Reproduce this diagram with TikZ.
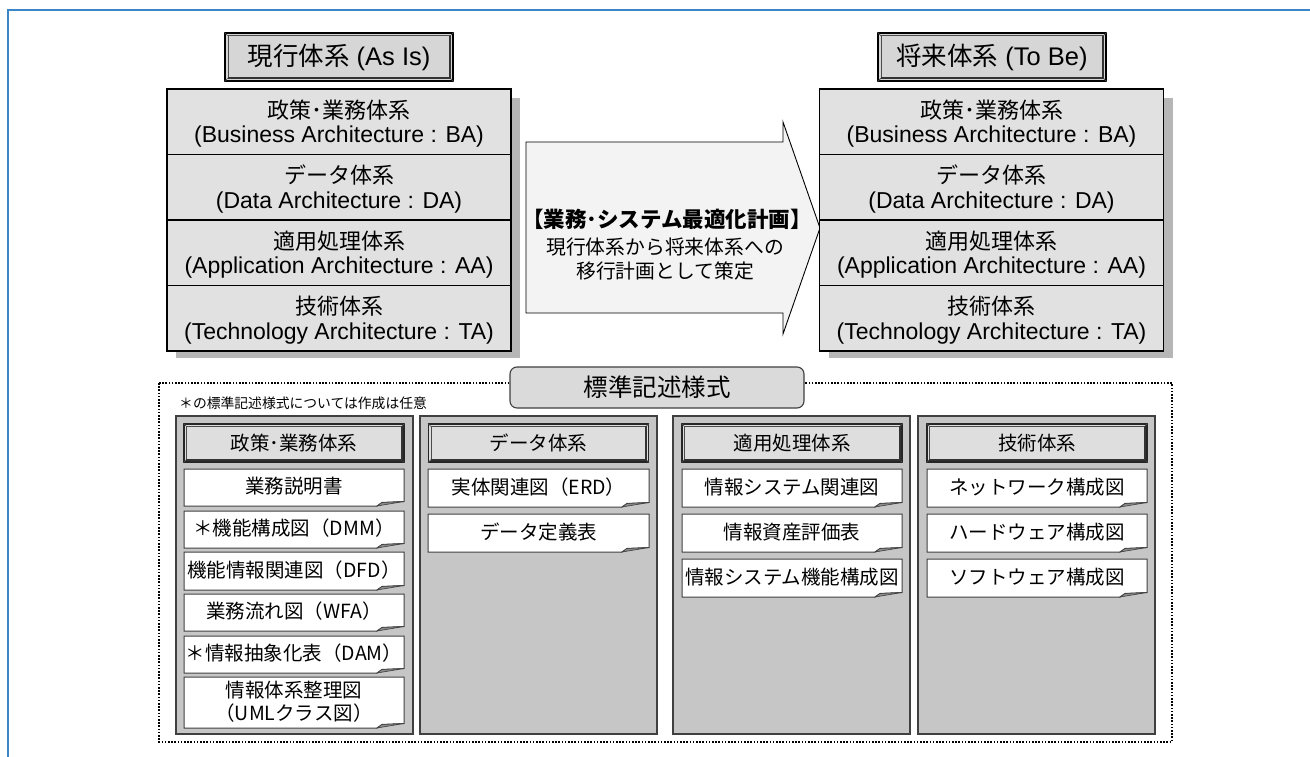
\documentclass[tikz,border=0pt]{standalone}
\usepackage{fontspec}
\setmainfont{Liberation Sans}
\newfontfamily\jp{Noto Sans CJK JP}
\definecolor{frameblue}{RGB}{58,134,198}
\definecolor{rowgray}{RGB}{225,225,225}
\definecolor{shadowgray}{RGB}{182,182,182}
\definecolor{titlegray}{RGB}{214,214,214}
\definecolor{panelgray}{RGB}{198,198,198}
\definecolor{edgegray}{RGB}{64,64,64}
\definecolor{arrowfill}{RGB}{243,243,243}
\definecolor{headgray}{RGB}{222,222,222}
\definecolor{stdgray}{RGB}{218,218,218}
\newcommand\bevelize[2]{%
  \draw[bevel] ([xshift=#2,yshift=-#2]#1.north west) rectangle ([xshift=-#2,yshift=#2]#1.south east);
  \draw[bevel] (#1.north west) -- ([xshift=#2,yshift=-#2]#1.north west);
  \draw[bevel] (#1.north east) -- ([xshift=-#2,yshift=-#2]#1.north east);
  \draw[bevel] (#1.south west) -- ([xshift=#2,yshift=#2]#1.south west);
  \draw[bevel] (#1.south east) -- ([xshift=-#2,yshift=#2]#1.south east);
  \draw[bevelshade] ([xshift=-#2,yshift=-#2]#1.north east) -- ([xshift=-#2,yshift=#2]#1.south east) -- ([xshift=#2,yshift=#2]#1.south west);
}
\newcommand\docitem[6]{%
  \draw[docedge] (#2,#3) -- (#4,#3) -- (#4,#5-4.5) -- (#4-22,#5-3.5) -- (#4-27,#5) -- (#2,#5) -- cycle;
  \draw[docfold] (#4-27,#5) -- (#4-22,#5-3.5) -- (#4,#5-4.5) -- cycle;
  \node[itemtext] (#1) at ({(#2+#4)/2},{(#3+#5)/2-1}) {#6};
}
\begin{document}
\begin{tikzpicture}[x=1pt,y=-1pt,
  stackrow/.style={draw=black, line width=1.1pt, fill=rowgray, minimum width=344pt, minimum height=65.5pt, inner sep=0pt, outer sep=0pt},
  jprow/.style={font=\jp\fontsize{22}{26}\selectfont, inner sep=0pt},
  enrow/.style={font=\fontsize{23}{27}\selectfont, inner sep=0pt},
  titlebox/.style={draw=black, line width=1.3pt, fill=titlegray, minimum width=228pt, minimum height=48pt, inner sep=0pt, font=\fontsize{25.5}{29}\selectfont},
  bevel/.style={draw=black!70, line width=0.7pt},
  bevelshade/.style={draw=black!80, line width=1.8pt},
  arrowshape/.style={draw=black, line width=0.9pt, fill=arrowfill},
  arrowbold/.style={font=\jp\bfseries\fontsize{21.5}{25}\selectfont, inner sep=0pt},
  arrowtext/.style={font=\jp\fontsize{19.8}{23}\selectfont, inner sep=0pt},
  panel/.style={draw=edgegray, line width=1.2pt, fill=panelgray, minimum width=237pt, minimum height=318pt, inner sep=0pt},
  colhead/.style={draw=black!85, line width=1.2pt, fill=headgray, minimum width=220pt, minimum height=38pt, inner sep=0pt, font=\jp\fontsize{19.5}{23}\selectfont},
  docedge/.style={draw=edgegray, line width=1pt, fill=white},
  docfold/.style={draw=edgegray, line width=0.6pt, fill=black!45},
  itemtext/.style={font=\jp\fontsize{19.5}{23.5}\selectfont, inner sep=0pt, align=center},
  stdbox/.style={draw=edgegray, line width=1.1pt, fill=stdgray, rounded corners=7pt, minimum width=294pt, minimum height=41pt, inner sep=0pt, font=\jp\fontsize{24.5}{28}\selectfont},
  notetext/.style={font=\jp\fontsize{13.8}{16}\selectfont, inner sep=0pt, anchor=west},
  dotframe/.style={draw=black, line width=1.6pt, dash pattern=on 1.6pt off 1.6pt},
]
\useasboundingbox (0,0) rectangle (1310,757);
\fill[white] (0,0) rectangle (1310,757);
% blue page frame
\draw[frameblue, line width=2pt] (1310,10) -- (8,10) -- (8,757);

% title boxes
\node[titlebox] (asis) at (339,57) {{\jp 現行体系} (As Is)};
\bevelize{asis}{3.5pt}
\node[titlebox] (tobe) at (992,57) {{\jp 将来体系} (To Be)};
\bevelize{tobe}{3.5pt}

% transition arrow
\draw[arrowshape] (526,142) -- (783,142) -- (783,122) -- (820,228) -- (783,334) -- (783,313) -- (526,313) -- cycle;
\node[arrowbold] (plan) at (667,219) {【業務･システム最適化計画】};
\node[arrowtext] (plan2) at (665,247) {現行体系から将来体系への};
\node[arrowtext] (plan3) at (665,271) {移行計画として策定};

% architecture stacks
\foreach \side/\cx in {L/339, R/991.5} {
  \fill[shadowgray] (\cx-163,98) rectangle (\cx+181,358);
  \foreach \ja/\en [count=\i from 0] in {政策･業務体系/(Business Architecture : BA), データ体系/(Data Architecture : DA), 適用処理体系/(Application Architecture : AA), 技術体系/(Technology Architecture : TA)} {
    \node[stackrow] (\side-row-\i) at (\cx,89+65.5*\i+32.75) {};
    \node[jprow] (\side-ja-\i) at (\cx,89+65.5*\i+21) {\ja};
    \node[enrow] (\side-en-\i) at (\cx,89+65.5*\i+48) {\en};
  }
}

% standard description frame
\draw[dotframe] (159,383) rectangle (1172,742);
\node[stdbox] (std) at (657,387.5) {標準記述様式};
\node[notetext] (note) at (179,403) {＊の標準記述様式については作成は任意};

% panels
\node[panel] (p1) at (294.5,575) {};
\node[panel] (p2) at (538.5,575) {};
\node[panel] (p3) at (791.5,575) {};
\node[panel] (p4) at (1036.5,575) {};

% column headers
\node[colhead] (h1) at (294,443) {政策･業務体系};
\bevelize{h1}{3pt}
\node[colhead] (h2) at (538.5,443) {データ体系};
\bevelize{h2}{3pt}
\node[colhead] (h3) at (792,443) {適用処理体系};
\bevelize{h3}{3pt}
\node[colhead] (h4) at (1037,443) {技術体系};
\bevelize{h4}{3pt}

% column 1 items
\docitem{b1}{184}{469}{404}{506}{業務説明書}
\docitem{b2}{184}{511}{404}{548}{＊機能構成図（DMM）}
\docitem{b3}{184}{552}{404}{590}{機能情報関連図（DFD）}
\docitem{b4}{184}{594}{404}{631}{業務流れ図（WFA）}
\docitem{b5}{184}{636}{404}{673}{＊情報抽象化表（DAM）}
\docitem{b6}{184}{677}{404}{728}{情報体系整理図\\（UMLクラス図）}

% column 2 items
\docitem{d1}{428}{469}{649}{507}{実体関連図（ERD）}
\docitem{d2}{428}{514}{649}{552}{データ定義表}

% column 3 items
\docitem{a1}{682}{469}{902}{507}{情報システム関連図}
\docitem{a2}{682}{514}{902}{552}{情報資産評価表}
\docitem{a3}{682}{559}{902}{597}{情報システム機能構成図}

% column 4 items
\docitem{t1}{927}{469}{1147}{507}{ネットワーク構成図}
\docitem{t2}{927}{514}{1147}{552}{ハードウェア構成図}
\docitem{t3}{927}{559}{1147}{597}{ソフトウェア構成図}
\end{tikzpicture}
\end{document}
